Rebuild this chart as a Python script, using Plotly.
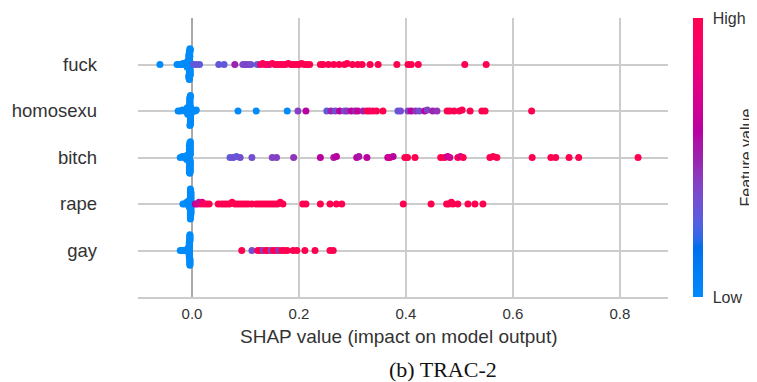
import numpy as np
import plotly.graph_objects as go

# ---------------- data ----------------
features = ["fuck", "homosexu", "bitch", "rape", "gay"]   # top -> bottom
x_ticks = [0.0, 0.2, 0.4, 0.6, 0.8]
x_tick_labels = ["0.0", "0.2", "0.4", "0.6", "0.8"]
x_title = "SHAP value (impact on model output)"
caption = "(b) TRAC-2"
cbar_labels = ["Low", "High"]
cbar_title = "Feature value"

# points where the word is absent (feature value = low)
fuck_low = [-0.060, -0.028, -0.024, -0.020, -0.017, -0.014, -0.011,
            -0.009, -0.009, -0.008, -0.009, -0.008, -0.009, -0.008, -0.009,
            -0.006, -0.005, -0.004, -0.005, -0.006, -0.004, -0.005, -0.005,
            -0.006, -0.004, -0.005, -0.003, -0.006, -0.005, -0.004, -0.005,
            -0.006, -0.004, -0.005, -0.003, -0.005, -0.006, -0.004, -0.005,
            -0.005, -0.006, -0.004, -0.005, -0.003, -0.005, -0.004]
homosexu_low = [-0.026, -0.022, -0.018, -0.014, -0.011, 0.006, 0.008, 0.086, 0.120, 0.178,
                -0.008, -0.009, -0.008, -0.009, -0.008, -0.009, -0.008,
                -0.004, -0.003, -0.004, -0.002, -0.003, -0.004, -0.003, -0.002,
                -0.004, -0.003, -0.004, -0.002, -0.003, -0.004, -0.003, -0.002,
                -0.004, -0.003, -0.004, -0.002, -0.003, -0.004, -0.003, -0.002,
                -0.003, -0.004, -0.003, -0.002]
bitch_low = [-0.022, -0.018, -0.015, -0.012, -0.010,
             -0.009, -0.010, -0.009, -0.010, -0.009,
             -0.005, -0.004, -0.003, -0.005, -0.004, -0.003, -0.005, -0.004,
             -0.003, -0.005, -0.004, -0.003, -0.005, -0.004, -0.003, -0.005,
             -0.004, -0.003, -0.005, -0.004, -0.003, -0.005, -0.004, -0.003,
             -0.004, -0.005, -0.003, -0.004]
rape_low = [-0.017, -0.013, -0.010, -0.008,
            -0.006, -0.005, -0.006, -0.005,
            -0.003, -0.002, -0.003, -0.002, -0.003, -0.002, -0.003, -0.002,
            -0.003, -0.002, -0.003, -0.002, -0.003, -0.002, -0.003, -0.002,
            -0.003, -0.002, -0.003, -0.002, -0.003, -0.002, -0.003, -0.002,
            -0.003, -0.002, -0.003, -0.002]
gay_low = [-0.022, -0.019, -0.016, -0.013, -0.011,
           -0.008, -0.008, -0.008, -0.008,
           -0.005, -0.005, -0.005, -0.005, -0.005, -0.005, -0.005, -0.005,
           -0.005, -0.005, -0.005, -0.005, -0.005, -0.005, -0.005, -0.005,
           -0.004, -0.004, -0.004, -0.004, -0.004, -0.004, -0.004, -0.004,
           -0.004, -0.004, -0.004, -0.004, -0.004, -0.004]

# points where the word is present: SHAP value and feature value (0..1)
fuck_high = [0.003, 0.008, 0.014, 0.050, 0.060, 0.080, 0.095, 0.100, 0.105, 0.110, 0.122,
             0.128, 0.132, 0.136, 0.140, 0.145, 0.150, 0.155, 0.160, 0.165, 0.170,
             0.175, 0.180, 0.185, 0.190, 0.195, 0.200, 0.205, 0.210, 0.215, 0.220,
             0.240, 0.245, 0.255, 0.265, 0.275, 0.285, 0.290, 0.300, 0.310, 0.318,
             0.333, 0.348, 0.383, 0.404, 0.410, 0.423, 0.510, 0.550]
fuck_high_fv = [0.3, 0.3, 0.3, 0.3, 0.3, 0.5, 0.35, 0.4, 0.4, 0.35, 0.3,
                0.85, 1.0, 0.9, 1.0, 0.8, 1.0, 1.0, 0.9, 1.0, 1.0,
                0.95, 1.0, 1.0, 1.0, 1.0, 1.0, 1.0, 1.0, 1.0, 1.0,
                1.0, 1.0, 1.0, 1.0, 1.0, 1.0, 1.0, 1.0, 1.0, 1.0,
                1.0, 1.0, 1.0, 1.0, 1.0, 1.0, 1.0, 1.0]
homosexu_high = [0.198, 0.213, 0.252, 0.260, 0.268, 0.276, 0.285, 0.290, 0.298, 0.305,
                 0.310, 0.320, 0.327, 0.332, 0.338, 0.345, 0.357, 0.385, 0.390, 0.404,
                 0.410, 0.418, 0.425, 0.435, 0.440, 0.450, 0.458, 0.477, 0.482, 0.490,
                 0.500, 0.505, 0.520, 0.542, 0.548, 0.635]
homosexu_high_fv = [0.4, 0.6, 0.3, 0.5, 0.35, 0.6, 0.35, 0.45, 0.6, 0.5,
                    0.65, 0.5, 1.0, 1.0, 0.9, 1.0, 1.0, 0.3, 0.35, 0.4,
                    0.6, 0.45, 0.35, 0.6, 0.4, 0.5, 0.45, 1.0, 1.0, 1.0,
                    0.95, 1.0, 1.0, 1.0, 1.0, 1.0]
bitch_high = [0.071, 0.077, 0.083, 0.090, 0.112, 0.150, 0.158, 0.190, 0.240, 0.265,
              0.270, 0.308, 0.312, 0.327, 0.366, 0.370, 0.376, 0.398, 0.403, 0.417,
              0.465, 0.472, 0.478, 0.482, 0.497, 0.502, 0.507, 0.557, 0.563, 0.570,
              0.636, 0.671, 0.680, 0.705, 0.723, 0.834]
bitch_high_fv = [0.3, 0.35, 0.3, 0.35, 0.35, 0.4, 0.4, 0.45, 0.6, 0.55,
                 0.6, 0.6, 0.55, 0.6, 0.65, 0.7, 0.6, 1.0, 1.0, 1.0,
                 1.0, 1.0, 0.65, 0.7, 1.0, 0.7, 1.0, 1.0, 1.0, 1.0,
                 1.0, 1.0, 1.0, 1.0, 1.0, 1.0]
rape_high = [0.006, 0.010, 0.013, 0.016, 0.019, 0.022, 0.027, 0.032,
             0.049, 0.055, 0.060, 0.065, 0.070, 0.075, 0.080, 0.085, 0.090, 0.095, 0.100,
             0.105, 0.112, 0.120, 0.125, 0.130, 0.135, 0.140, 0.145, 0.150, 0.155,
             0.160, 0.165, 0.170, 0.207, 0.213, 0.240, 0.258, 0.270, 0.280,
             0.395, 0.447, 0.476, 0.480, 0.485, 0.488, 0.497, 0.516, 0.529, 0.544]
rape_high_fv = [0.6, 0.7, 0.55, 0.85, 0.75, 1.0, 0.9, 1.0,
                1.0, 1.0, 1.0, 1.0, 1.0, 1.0, 1.0, 1.0, 1.0, 1.0, 1.0,
                1.0, 1.0, 1.0, 1.0, 1.0, 1.0, 1.0, 1.0, 1.0, 1.0,
                1.0, 1.0, 1.0, 1.0, 1.0, 1.0, 1.0, 1.0, 1.0,
                1.0, 1.0, 1.0, 1.0, 1.0, 1.0, 1.0, 1.0, 1.0, 1.0]
gay_high = [0.093, 0.112, 0.123, 0.128, 0.133, 0.138, 0.142, 0.148, 0.152, 0.157,
            0.162, 0.168, 0.172, 0.178, 0.189, 0.196, 0.211, 0.230, 0.258, 0.264]
gay_high_fv = [1.0, 0.35, 1.0, 1.0, 0.4, 1.0, 1.0, 0.35, 1.0, 1.0,
               0.45, 1.0, 1.0, 1.0, 1.0, 1.0, 1.0, 1.0, 1.0, 1.0]

low_lists = [fuck_low, homosexu_low, bitch_low, rape_low, gay_low]
high_lists = [fuck_high, homosexu_high, bitch_high, rape_high, gay_high]
high_fv_lists = [fuck_high_fv, homosexu_high_fv, bitch_high_fv, rape_high_fv, gay_high_fv]


# ---------------- SHAP red_blue colormap (LCH interpolation) ----------------
def lch2rgb(L, C, h):
    a, b = C * np.cos(h), C * np.sin(h)
    fy = (L + 16) / 116
    fx, fz = fy + a / 500, fy - b / 200

    def finv(t):
        return t ** 3 if t ** 3 > 0.008856 else (t - 16 / 116) / 7.787
    X, Y, Z = 0.95047 * finv(fx), finv(fy), 1.08883 * finv(fz)
    lin = [3.2406 * X - 1.5372 * Y - 0.4986 * Z,
           -0.9689 * X + 1.8758 * Y + 0.0415 * Z,
           0.0557 * X - 0.2040 * Y + 1.0570 * Z]
    out = []
    for c in lin:
        c = max(c, 0.0)
        c = 12.92 * c if c <= 0.0031308 else 1.055 * c ** (1 / 2.4) - 0.055
        out.append(int(round(255 * min(max(c, 0.0), 1.0))))
    return out


nsteps = 40
blue_lch = [54., 70., 4.6588]
red_lch = [54., 90., 0.35470565 + 2 * np.pi]
l_mid = 40.
l_vals = list(np.linspace(blue_lch[0], l_mid, nsteps // 2)) + list(np.linspace(l_mid, red_lch[0], nsteps // 2))
c_vals = np.linspace(blue_lch[1], red_lch[1], nsteps)
h_vals = np.linspace(blue_lch[2], red_lch[2], nsteps)
colorscale = []
for pos, l, c, h in zip(np.linspace(0, 1, nsteps), l_vals, c_vals, h_vals):
    r, g, b = lch2rgb(l, c, h)
    colorscale.append([float(pos), f"rgb({r},{g},{b})"])


# ---------------- beeswarm offsets (as in shap.summary_plot) ----------------
def swarm(vals, row_height=0.4, nbins=100):
    v = np.asarray(vals, dtype=float)
    quant = np.round(nbins * (v - v.min()) / (v.max() - v.min() + 1e-8))
    inds = np.argsort(quant, kind="stable")
    ys = np.zeros(len(v))
    layer, last = 0, None
    for i in inds:
        if quant[i] != last:
            layer = 0
        ys[i] = np.ceil(layer / 2) * ((layer % 2) * 2 - 1)
        layer += 1
        last = quant[i]
    ys *= 0.9 * (row_height / np.max(ys + 1))
    return ys


fig = go.Figure()
n = len(features)
for k, name in enumerate(features):
    row = n - 1 - k
    shap_vals = list(low_lists[k]) + list(high_lists[k])
    fvals = [0.0] * len(low_lists[k]) + list(high_fv_lists[k])
    ys = swarm(shap_vals)
    fig.add_trace(go.Scatter(
        x=shap_vals, y=row + ys, mode="markers",
        marker=dict(size=7, color=fvals, coloraxis="coloraxis", line=dict(width=0)),
        showlegend=False, hoverinfo="skip", name=name))

txt = "#333333"
# the page body has an 8px margin, so the figure is 8px smaller than the window
fig.update_layout(
    width=749, height=374,
    margin=dict(l=130, r=89, t=10, b=85, autoexpand=False),
    paper_bgcolor="white", plot_bgcolor="white",
    font=dict(family="Liberation Sans, Arial, sans-serif", color=txt),
    xaxis=dict(range=[-0.101, 0.89], tickvals=x_ticks, ticktext=x_tick_labels,
               showgrid=True, gridcolor="#cccccc", gridwidth=1.5,
               zeroline=True, zerolinecolor="#aaaaaa", zerolinewidth=2,
               showline=True, linecolor="#cccccc", linewidth=1.5,
               ticks="", ticklabelstandoff=2,
               tickfont=dict(size=15, color=txt)),
    yaxis=dict(range=[-1, 5], tickvals=list(range(n)), ticktext=features[::-1],
               showgrid=True, gridcolor="#cccccc", gridwidth=1.5,
               zeroline=False, showline=False,
               ticks="", ticklabelstandoff=40,
               tickfont=dict(size=18.5, color=txt)),
    coloraxis=dict(colorscale=colorscale, cmin=0, cmax=1,
                   colorbar=dict(thickness=10, len=1.0, lenmode="fraction",
                                 y=0.5, yanchor="middle", x=1.047, xanchor="left",
                                 xpad=0, ypad=0, outlinewidth=0,
                                 tickvals=[0, 1], ticktext=cbar_labels,
                                 ticks="outside", ticklen=7, tickcolor="rgba(0,0,0,0)",
                                 tickfont=dict(size=16, color=txt))),
    annotations=[
        dict(text=x_title, xref="paper", yref="paper", x=0.4925, y=-0.1398,
             xanchor="center", yanchor="middle", showarrow=False,
             font=dict(size=19, color=txt)),
        dict(text=caption, xref="paper", yref="paper", x=0.5755, y=-0.2616,
             xanchor="center", yanchor="middle", showarrow=False,
             font=dict(size=22, color="#111111", family="Liberation Serif, Times New Roman, serif")),
        dict(text=cbar_title, xref="paper", yref="paper", x=1.149, y=0.5,
             xanchor="center", yanchor="middle", textangle=-90, showarrow=False,
             font=dict(size=16, color=txt)),
    ],
)

fig.write_html("out.html")
